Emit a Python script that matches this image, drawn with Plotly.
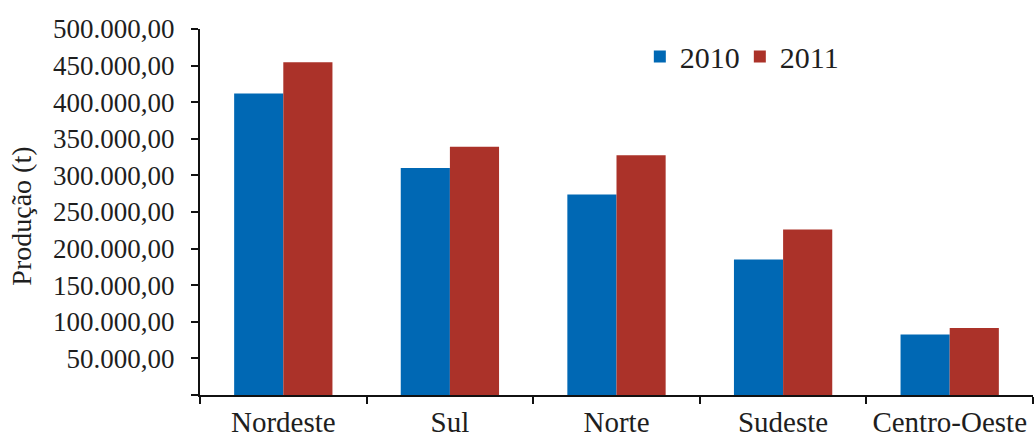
import plotly.graph_objects as go

regioes = ["Nordeste", "Sul", "Norte", "Sudeste", "Centro-Oeste"]
producao_2010 = [412000, 310000, 274000, 185000, 82500]
producao_2011 = [454500, 339000, 327500, 226000, 91500]
y_ticks = [0, 50000, 100000, 150000, 200000, 250000, 300000, 350000, 400000, 450000, 500000]
y_tick_labels = ["", "50.000,00", "100.000,00", "150.000,00", "200.000,00", "250.000,00",
                 "300.000,00", "350.000,00", "400.000,00", "450.000,00", "500.000,00"]

FONT = "Liberation Serif"
TXT = "#1e1e1e"

fig = go.Figure()
fig.add_trace(go.Bar(name="2010", x=regioes, y=producao_2010, marker_color="#0068B4",
                     marker_line_width=0))
fig.add_trace(go.Bar(name="2011", x=regioes, y=producao_2011, marker_color="#AB3229",
                     marker_line_width=0))

fig.update_layout(
    width=1034, height=439,
    margin=dict(l=200, r=1, t=29, b=38),
    paper_bgcolor="white", plot_bgcolor="white",
    barmode="group", bargap=0.41, bargroupgap=0,
    font=dict(family=FONT, size=27, color=TXT),
    legend=dict(orientation="h", x=0.528, y=0.925, xanchor="left", yanchor="middle",
                font=dict(family=FONT, size=30, color=TXT),
                entrywidth=55, entrywidthmode="pixels",
                bgcolor="rgba(0,0,0,0)", itemclick=False, traceorder="normal"),
    annotations=[dict(text="Produção (t)", textangle=-90, xref="paper", yref="paper",
                      x=-0.2137, y=0.49, xanchor="center", yanchor="middle",
                      showarrow=False, font=dict(family=FONT, size=28, color=TXT))],
)
fig.update_xaxes(
    showline=True, linecolor="#111", linewidth=2,
    ticks="outside", tickson="boundaries", ticklen=7, tickwidth=2, tickcolor="#111",
    tickfont=dict(family=FONT, size=29, color=TXT),
    showgrid=False, zeroline=False,
)
fig.update_yaxes(
    range=[0, 500000], tickvals=y_ticks, ticktext=y_tick_labels,
    showline=True, linecolor="#111", linewidth=2,
    ticks="outside", ticklen=7, tickwidth=2, tickcolor="#111",
    ticklabelstandoff=11,
    tickfont=dict(family=FONT, size=27, color=TXT),
    showgrid=False, zeroline=False,
)

fig.write_html("out.html")
